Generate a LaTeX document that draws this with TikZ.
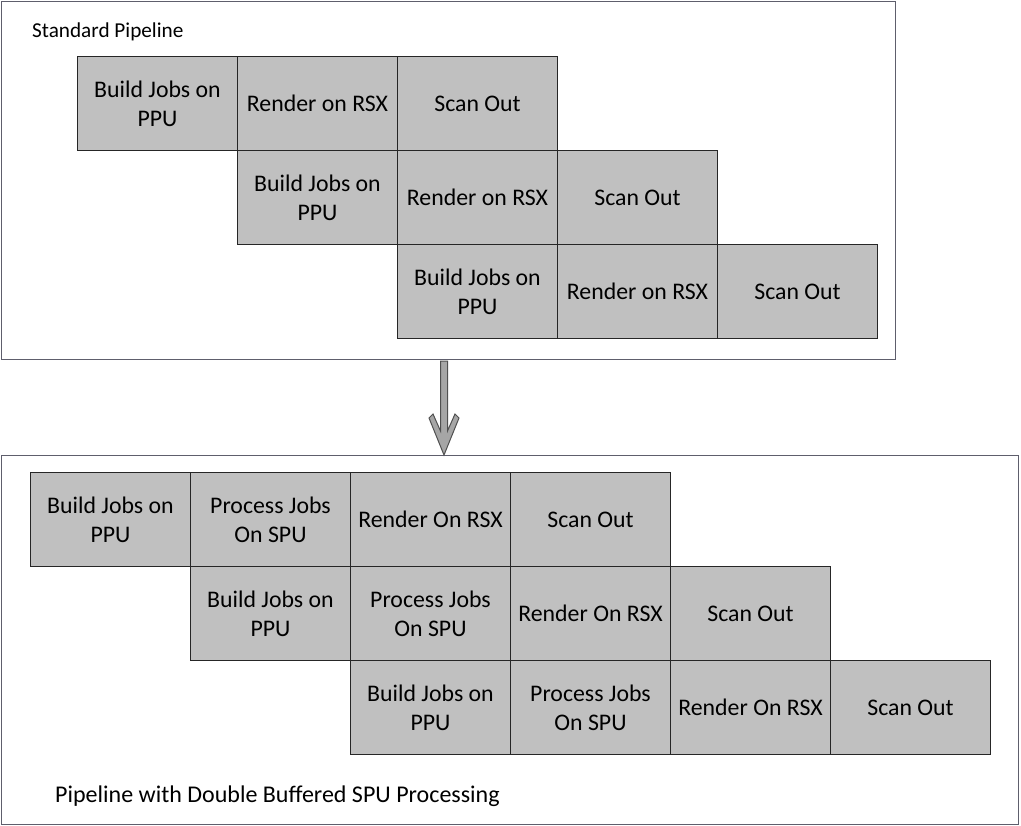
\documentclass[tikz,border=0pt]{standalone}
\usepackage{fontspec}
\setmainfont{Carlito}
\begin{document}
\begin{tikzpicture}[x=1bp,y=-1bp,
  stage/.style={draw=black!85, fill=boxgray, line width=1bp, minimum width=160bp, minimum height=94bp,
    inner sep=0pt, anchor=north west, align=center, font=\fontsize{23.9}{29}\selectfont},
  frame/.style={draw=framegray, line width=1.2bp, inner sep=0pt, anchor=north west},
  caption/.style={anchor=west, inner sep=0pt}]
\definecolor{boxgray}{HTML}{C0C0C0}
\definecolor{framegray}{HTML}{5E5E6C}
\definecolor{arrowfill}{HTML}{A6A6A6}
\definecolor{arrowdraw}{HTML}{505050}
\useasboundingbox[fill=white] (0,0) rectangle (1021,826);
% frames
\node[frame, minimum width=894bp, minimum height=358bp] (top) at (1,1) {};
\node[frame, minimum width=1017bp, minimum height=369bp] (bot) at (1,455) {};
\node[caption, font=\fontsize{21.3}{25}\selectfont] (toplabel) at (32,32) {Standard Pipeline};
\node[caption, font=\fontsize{24.1}{29}\selectfont] (botlabel) at (55,796) {Pipeline with Double Buffered SPU Processing};
% standard pipeline
\node[stage] (a1) at (77,56) {Build Jobs on\\PPU};
\node[stage] (a2) at (237,56) {Render on RSX};
\node[stage] (a3) at (397,56) {Scan Out};
\node[stage] (b1) at (237,150) {Build Jobs on\\PPU};
\node[stage] (b2) at (397,150) {Render on RSX};
\node[stage] (b3) at (557,150) {Scan Out};
\node[stage] (c1) at (397,244) {Build Jobs on\\PPU};
\node[stage] (c2) at (557,244) {Render on RSX};
\node[stage] (c3) at (717,244) {Scan Out};
% double buffered
\node[stage] (d1) at (30,472) {Build Jobs on\\PPU};
\node[stage] (d2) at (190,472) {Process Jobs\\On SPU};
\node[stage] (d3) at (350,472) {Render On RSX};
\node[stage] (d4) at (510,472) {Scan Out};
\node[stage] (e1) at (190,566) {Build Jobs on\\PPU};
\node[stage] (e2) at (350,566) {Process Jobs\\On SPU};
\node[stage] (e3) at (510,566) {Render On RSX};
\node[stage] (e4) at (670,566) {Scan Out};
\node[stage] (f1) at (350,660) {Build Jobs on\\PPU};
\node[stage] (f2) at (510,660) {Process Jobs\\On SPU};
\node[stage] (f3) at (670,660) {Render On RSX};
\node[stage] (f4) at (830,660) {Scan Out};
% block arrow between frames
\coordinate (as) at (444,361);
\coordinate (ae) at (444,455);
\draw[fill=arrowfill, draw=arrowdraw, line width=1bp, line join=miter]
  ([xshift=-3.5bp]as) -- ([xshift=3.5bp]as) -- ([xshift=3.5bp,yshift=24bp]ae)
  -- ([xshift=11bp,yshift=41bp]ae) -- ([xshift=15bp,yshift=37bp]ae) -- (ae)
  -- ([xshift=-15bp,yshift=37bp]ae) -- ([xshift=-11bp,yshift=41bp]ae)
  -- ([xshift=-3.5bp,yshift=24bp]ae) -- cycle;
\end{tikzpicture}
\end{document}
